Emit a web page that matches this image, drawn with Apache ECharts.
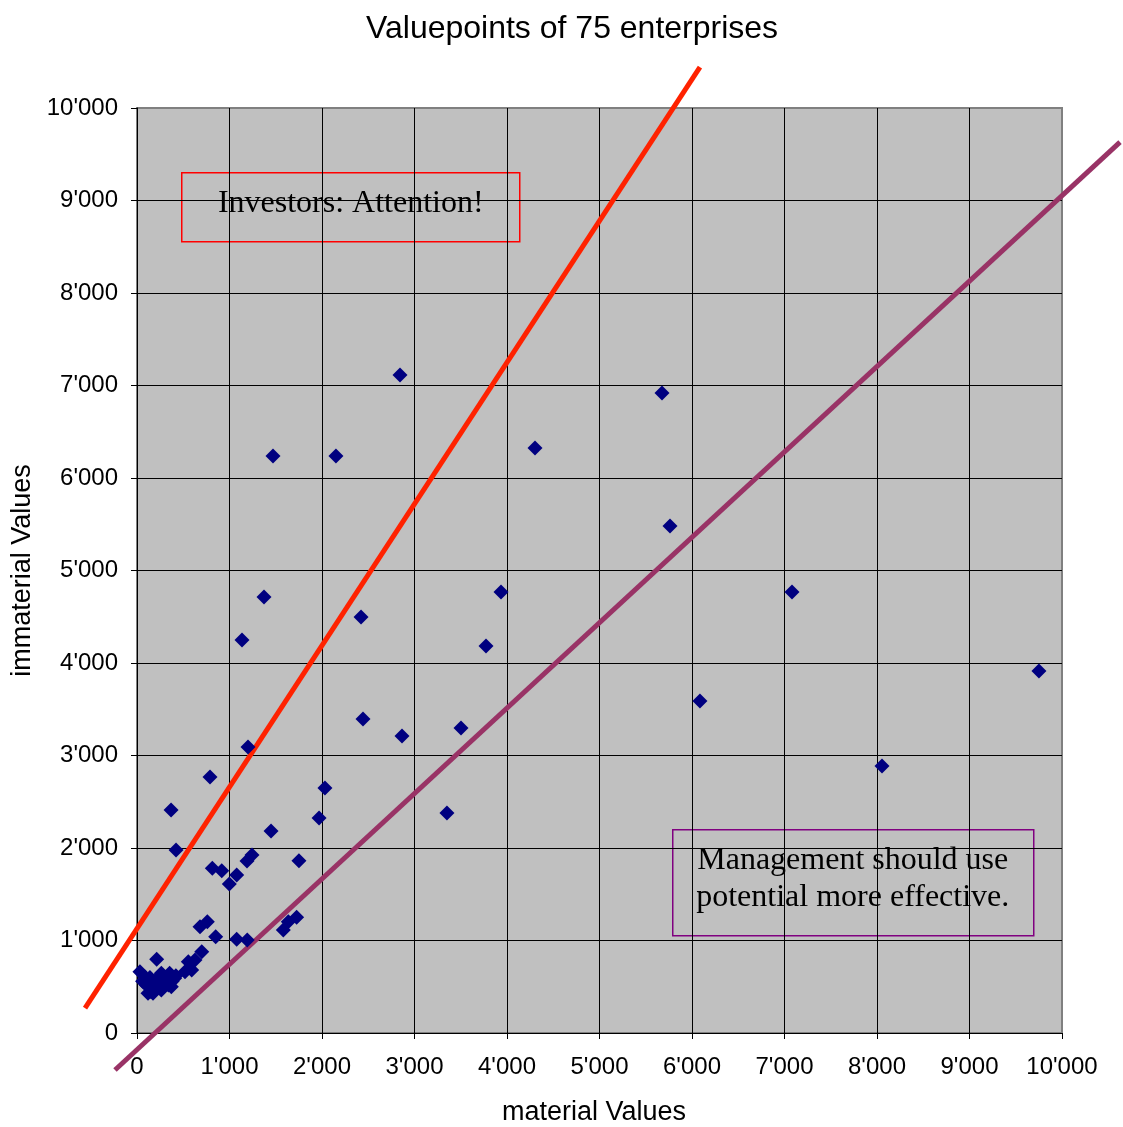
<!DOCTYPE html>
<html>
<head>
<meta charset="utf-8">
<script src="https://cdn.jsdelivr.net/npm/echarts@6/dist/echarts.min.js"></script>
<style>
  html, body { margin: 0; padding: 0; background: #fff; }
  #chart { width: 1123px; height: 1127px; }
</style>
</head>
<body>
<div id="chart"></div>
<script>
// material values (x) of the enterprises
var materialValues = [
  2843, 5676, 1470, 2151, 4303, 5762, 7081, 3935, 1373, 2422,
  1135, 3773, 9751, 6086, 2443, 3503, 2865, 1200, 8054, 789,
  2032, 368, 3351, 1968, 1449, 422, 1751, 1189, 1243, 814,
  916, 1078, 998, 681, 760, 851, 1078, 1192, 1582, 1726,
  1636, 700, 627, 555, 591, 519, 213, 32, 83, 155,
  173, 263, 263, 353, 407, 371, 299, 227, 119, 195,
  250, 300, 330, 380, 420, 140, 60, 100, 190, 240,
  280, 340, 150, 210, 310
];
// immaterial values (y)
var immaterialValues = [
  7114, 6919, 6238, 6238, 6324, 5481, 4768, 4768, 4714, 4497,
  4249, 4184, 3914, 3589, 3395, 3297, 3211, 3092, 2886, 2768,
  2649, 2411, 2378, 2324, 2184, 1978, 1863, 1859, 1924, 1780,
  1755, 1708, 1611, 1149, 1203, 1041, 1013, 1005, 1114, 1251,
  1203, 879, 789, 771, 681, 663, 797, 663, 609, 501,
  430, 465, 645, 645, 591, 501, 537, 573, 429, 520,
  620, 560, 600, 560, 620, 600, 560, 520, 480, 560,
  620, 520, 450, 500, 600
];

// guide lines (end points)
var redLineX = [-562, 6086];
var redLineY = [270, 10443];
var purpleLineX = [-238, 10627];
var purpleLineY = [-400, 9632];

var axisTicks = [0, 1000, 2000, 3000, 4000, 5000, 6000, 7000, 8000, 9000, 10000];
// wider hidden scale so the guide lines can run past the plot frame
var outerRange = [-1000, 11000];

function fmt(v) {
  return String(v).replace(/\B(?=(\d{3})+(?!\d))/g, "'");
}

var points = materialValues.map(function (x, i) { return [x, immaterialValues[i]]; });
var redLine = redLineX.map(function (x, i) { return [x, redLineY[i]]; });
var purpleLine = purpleLineX.map(function (x, i) { return [x, purpleLineY[i]]; });

var chart = echarts.init(document.getElementById('chart'));

var labelStyle = { formatter: fmt, color: '#000', fontFamily: 'Liberation Sans', fontSize: 24 };

var axisCommon = {
  type: 'value',
  gridIndex: 0,
  min: axisTicks[0],
  max: axisTicks[axisTicks.length - 1],
  interval: 1000,
  axisLine: { show: true, lineStyle: { color: '#000', width: 1 } },
  axisTick: { show: true, length: 6, lineStyle: { color: '#000' } },
  splitLine: { show: true, showMaxLine: false, lineStyle: { color: '#000', width: 1 } },
  nameLocation: 'middle'
};

var hiddenAxis = {
  type: 'value',
  gridIndex: 1,
  min: outerRange[0],
  max: outerRange[1],
  show: false
};

chart.setOption({
  animation: false,
  backgroundColor: '#fff',
  title: {
    text: 'Valuepoints of 75 enterprises',
    left: 361,
    top: 8,
    textStyle: { color: '#000', fontFamily: 'Liberation Sans', fontSize: 32, fontWeight: 'normal' }
  },
  grid: [
    {
      left: 137, right: 61, top: 108, bottom: 94,
      outerBoundsMode: 'none',
      show: true, backgroundColor: '#c0c0c0', borderColor: '#808080', borderWidth: 2
    },
    {
      left: 44.5, right: -31.5, top: 15.5, bottom: 1.5,
      outerBoundsMode: 'none',
      show: false
    }
  ],
  xAxis: [
    Object.assign({}, axisCommon, {
      name: 'material Values',
      nameGap: 66,
      nameTextStyle: { color: '#000', fontFamily: 'Liberation Sans', fontSize: 27, padding: [0, 11, 0, 0] },
      axisLabel: Object.assign({ margin: 22 }, labelStyle)
    }),
    hiddenAxis
  ],
  yAxis: [
    Object.assign({}, axisCommon, {
      name: 'immaterial Values',
      nameGap: 101,
      nameTextStyle: { color: '#000', fontFamily: 'Liberation Sans', fontSize: 27 },
      axisLabel: Object.assign({ margin: 19 }, labelStyle)
    }),
    hiddenAxis
  ],
  series: [
    {
      type: 'line',
      xAxisIndex: 1, yAxisIndex: 1,
      data: redLine,
      symbol: 'none',
      lineStyle: { color: '#ff2200', width: 5 },
      z: 3
    },
    {
      type: 'line',
      xAxisIndex: 1, yAxisIndex: 1,
      data: purpleLine,
      symbol: 'none',
      lineStyle: { color: '#993366', width: 5 },
      z: 3
    },
    {
      type: 'scatter',
      data: points,
      symbol: 'diamond',
      symbolSize: 15,
      itemStyle: { color: '#000080', opacity: 1 },
      z: 4
    }
  ],
  graphic: [
    {
      type: 'group',
      left: 181, top: 172,
      z: 10,
      children: [
        { type: 'rect', shape: { x: 0, y: 0, width: 338, height: 69 },
          style: { fill: '#c0c0c0', stroke: '#ff0000', lineWidth: 1.5 } },
        { type: 'text', x: 169, y: 31,
          style: { text: 'Investors: Attention!', align: 'center', verticalAlign: 'middle',
                   fontFamily: 'Liberation Serif', fontSize: 32, fill: '#000' } }
      ]
    },
    {
      type: 'group',
      left: 672, top: 829,
      z: 10,
      children: [
        { type: 'rect', shape: { x: 0, y: 0, width: 361, height: 106 },
          style: { fill: '#c0c0c0', stroke: '#800080', lineWidth: 1.5 } },
        { type: 'text', x: 180, y: 49,
          style: { text: 'Management should use\npotential more effective.', align: 'center', verticalAlign: 'middle',
                   lineHeight: 37, fontFamily: 'Liberation Serif', fontSize: 32, fill: '#000' } }
      ]
    }
  ]
});
</script>
</body>
</html>
